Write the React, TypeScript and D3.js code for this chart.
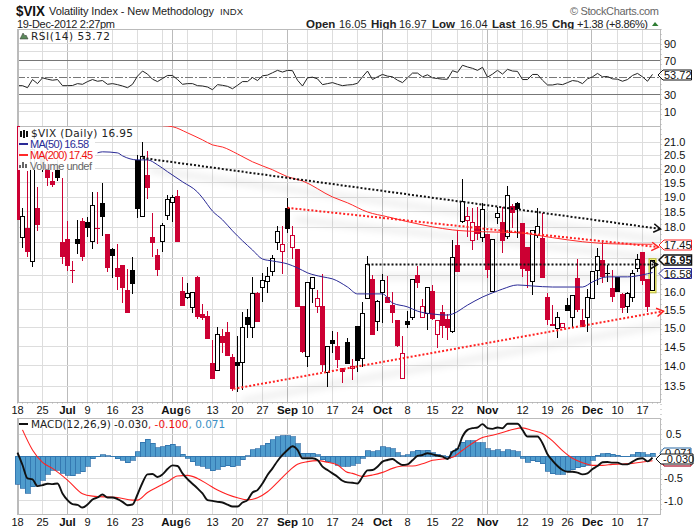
import React from 'react';
import * as d3 from 'd3';

// daily candles, 18 Jun 2012 to 19 Dec 2012, 128 trading days
const opens = [21.6,17.66,17.98,16.9,18.64,20.51,20.15,19.57,20.15,17.53,17.62,16.66,17.62,18.21,18.18,17.53,17.98,18.81,17.78,17.3,16.72,16.81,16.06,16.66,20.33,18.34,19.79,17.69,17.11,17.53,18.37,18.81,19.05,16.03,15.86,15.55,16.45,15.38,15.32,14.08,13.88,14.78,14.89,14.23,14.1,14.08,15.29,15.0,15.98,16.15,16.3,16.6,17.5,17.21,18.64,17.34,17.3,15.6,14.23,16.12,15.58,15.6,13.83,14.67,14.52,13.95,14.62,13.93,15.05,14.18,15.83,16.39,15.18,16.0,15.86,15.63,15.21,13.68,15.18,15.27,16.51,15.29,15.4,16.03,14.83,15.43,15.24,14.89,17.43,18.18,18.21,17.56,18.04,17.66,17.78,16.03,18.31,18.18,17.69,18.71,18.81,18.14,17.37,16.3,17.72,17.66,15.86,15.1,14.97,15.0,15.63,15.27,16.42,15.21,15.27,15.81,16.63,16.96,16.57,16.12,16.45,15.95,15.6,15.86,16.69,17.21,16.39,16.05];
const closes = [18.24,18.34,17.21,20.7,18.08,20.15,19.68,19.43,19.68,17.05,16.78,16.63,17.46,17.05,17.98,18.71,17.96,18.34,16.72,17.08,16.45,16.12,15.4,16.24,18.6,20.44,19.32,17.5,16.66,18.04,18.94,18.98,17.53,15.6,15.95,15.98,15.29,15.27,14.7,13.68,14.83,14.59,14.26,13.43,14.0,15.02,15.08,15.95,15.16,16.33,16.45,17.02,17.85,17.43,17.94,17.72,15.58,14.36,16.27,16.42,15.81,14.03,14.49,14.57,14.15,13.85,14.05,13.98,14.13,15.4,16.81,14.81,15.72,16.33,15.69,15.4,14.52,14.33,15.08,16.36,16.27,15.58,16.15,15.24,15.2,15.05,15.0,17.05,16.6,18.84,18.34,18.14,17.78,18.6,16.66,17.59,18.44,17.56,19.05,18.47,18.6,16.69,16.63,17.88,18.01,16.42,15.21,15.05,15.27,15.13,15.46,15.89,15.49,15.02,15.86,16.6,17.08,16.45,16.57,15.86,16.0,15.55,15.95,16.54,16.99,16.33,15.58,16.95];
const highs = [21.7,18.64,19.93,20.88,19.36,20.7,20.33,19.9,20.33,19.68,18.21,16.93,18.24,18.31,18.34,19.18,19.18,19.5,17.78,17.34,17.46,16.81,16.69,17.05,20.51,21.0,20.66,18.47,17.3,18.14,19.08,19.08,19.25,16.45,16.27,16.0,16.48,15.66,15.46,14.67,15.02,14.97,15.16,14.31,14.78,15.43,15.52,16.45,16.0,16.57,16.75,17.11,18.04,18.04,18.98,18.04,17.3,15.6,16.27,16.42,16.06,16.54,14.49,14.91,14.89,13.95,14.73,14.18,15.05,15.72,17.08,16.51,15.78,16.54,16.48,16.0,15.21,14.78,15.46,16.39,16.78,15.81,16.15,16.21,15.21,15.63,15.38,17.59,17.91,19.65,18.67,18.64,18.67,18.81,17.78,17.59,18.67,18.67,19.4,18.77,18.84,18.14,17.37,17.91,18.64,18.47,15.98,15.63,15.43,15.13,15.83,15.89,16.99,15.52,16.09,16.6,17.34,17.53,16.81,16.66,16.45,15.98,16.0,16.66,17.15,17.21,16.39,16.97];
const lows = [18.24,17.34,17.05,16.75,17.88,19.9,19.4,19.36,19.57,16.84,16.63,16.27,17.15,16.93,17.69,17.3,17.46,17.72,16.6,16.42,16.06,15.69,15.4,15.95,18.31,18.34,18.94,17.05,16.48,17.21,18.24,18.18,17.53,15.6,15.81,15.4,15.24,15.21,14.7,13.68,13.88,14.33,14.26,13.38,13.35,13.4,14.73,14.73,15.16,15.72,15.98,16.48,17.27,16.54,17.82,16.99,15.58,14.33,13.98,15.69,15.4,13.85,13.48,14.33,13.95,13.58,14.05,13.65,13.85,13.98,15.83,14.81,14.91,15.13,15.69,15.13,14.49,13.68,15.0,15.21,16.12,15.29,14.94,15.21,14.46,14.73,14.67,14.86,16.6,18.14,17.69,17.27,17.59,17.53,16.42,16.0,18.11,17.18,17.62,17.98,17.66,16.45,16.12,15.92,17.66,16.42,15.08,15.05,14.73,15.0,15.46,15.0,15.43,15.02,14.89,15.81,16.21,16.27,16.3,15.72,16.0,15.4,15.4,15.72,16.6,16.21,15.43,16.04];

// moving averages read at the bars listed next to them
const ma50Bars = [16,17,20,21,24,26,28,30,33,36,37,39,41,43,45,47,49,51,54,56,58,61,63,66,68,73,75,78,80,83,86,87,90,93,95,97,100,103,107,110,113,115,118,122,125,127];
const ma50Values = [20.59,20.63,20.59,20.48,20.33,20.33,20.15,19.9,19.54,19.18,18.98,18.53,18.24,17.88,17.56,17.27,16.99,16.93,16.84,16.72,16.57,16.45,16.39,16.15,15.95,15.95,15.69,15.58,15.46,15.38,15.35,15.38,15.63,15.86,15.98,16.09,16.21,16.18,16.15,16.15,16.15,16.3,16.45,16.45,16.51,16.58];
const ma200Bars = [29,31,34,37,39,41,44,47,51,54,57,63,66,70,74,78,83,87,93,100,107,113,120,127];
const ma200Values = [21.63,21.59,21.35,21.08,20.89,20.81,20.55,20.26,19.97,19.72,19.57,19.01,18.81,18.5,18.34,18.18,18.01,17.91,17.85,17.82,17.66,17.53,17.46,17.45];

const rsiValues = [40.4,40.4,38,47.6,42.8,49.6,48,46.8,47.6,40.4,40.4,40.6,42.8,42,45.2,47.6,45.6,46.4,42,42.8,41.6,40,38,42,51.6,57.6,54,48,45.2,48.8,52.4,52.4,47.6,42,42.8,42.8,40.4,40,38.8,35.6,41.6,40.8,39.6,36.8,40.8,45.2,45.2,50,46.4,52,52.8,55.6,58.4,56.4,58.4,58,46.8,40,49.6,50.4,48.4,41.6,42.8,44,42,40.4,41.2,41.6,43.2,50.8,57.6,47.6,50.8,53.6,51.6,50.8,46.8,44,49.6,55.2,55.2,50.8,53.2,49.6,48.8,48,48,58,56,64.4,62.4,60.8,58.4,62,50.4,54,58.4,54,59.6,57.6,57.2,47.6,47.6,53.6,53.6,46.8,41.2,41.2,42.4,41.6,44,46.4,45.6,42.8,48.4,50.8,54.8,50.8,51.2,48.4,48,45.6,47.6,52.4,54.8,50.8,45.6,53.72];

const macdValues = [0.083,-0.197,-0.5,-0.523,-0.674,-0.652,-0.621,-0.629,-0.614,-0.841,-0.992,-1.083,-1.098,-1.159,-1.091,-0.977,-0.932,-0.864,-0.932,-0.932,-0.97,-1.03,-1.106,-1.091,-0.864,-0.598,-0.409,-0.402,-0.47,-0.409,-0.288,-0.205,-0.22,-0.386,-0.515,-0.621,-0.727,-0.841,-0.992,-1.008,-1.03,-1.045,-1.091,-1.136,-1.136,-1.045,-0.992,-0.818,-0.765,-0.614,-0.424,-0.273,-0.106,0.03,0.144,0.227,0.144,-0.045,-0.045,-0.045,-0.083,-0.235,-0.311,-0.386,-0.462,-0.553,-0.591,-0.598,-0.614,-0.462,-0.318,-0.311,-0.235,-0.121,-0.083,-0.061,-0.136,-0.197,-0.182,-0.091,0.008,0.03,0.068,0.045,0.015,-0.008,-0.061,0.106,0.167,0.447,0.598,0.636,0.652,0.727,0.636,0.621,0.652,0.636,0.735,0.735,0.735,0.598,0.447,0.447,0.447,0.295,0.045,-0.098,-0.22,-0.311,-0.348,-0.348,-0.371,-0.409,-0.386,-0.288,-0.22,-0.136,-0.129,-0.144,-0.144,-0.182,-0.182,-0.121,-0.061,-0.045,-0.114,-0.03];
const signalBars = [1,3,5,7,10,13,15,20,23,24,26,28,30,32,34,36,38,40,42,44,46,48,50,52,54,56,58,60,62,64,66,67,69,71,73,75,77,79,81,83,85,87,89,91,93,95,97,99,101,103,105,107,109,111,113,115,117,119,121,123,125,127];
const signalValues = [0.598,0.144,-0.136,-0.273,-0.538,-0.848,-0.902,-0.932,-0.992,-0.992,-0.818,-0.697,-0.576,-0.447,-0.432,-0.5,-0.629,-0.765,-0.864,-0.939,-0.985,-0.939,-0.803,-0.591,-0.364,-0.182,-0.121,-0.098,-0.136,-0.197,-0.364,-0.386,-0.455,-0.424,-0.364,-0.273,-0.22,-0.22,-0.167,-0.091,-0.061,-0.023,0.136,0.295,0.424,0.477,0.538,0.606,0.644,0.583,0.515,0.348,0.129,-0.045,-0.144,-0.205,-0.205,-0.182,-0.174,-0.159,-0.129,-0.1];
const histValues = [-0.636,-0.727,-0.841,-0.689,-0.636,-0.538,-0.409,-0.311,-0.311,-0.386,-0.424,-0.439,-0.386,-0.348,-0.22,-0.061,-0.008,0.03,0.008,-0.008,-0.061,-0.091,-0.144,-0.091,0.098,0.318,0.386,0.295,0.197,0.22,0.25,0.273,0.212,0.045,-0.045,-0.121,-0.197,-0.227,-0.273,-0.326,-0.288,-0.242,-0.212,-0.235,-0.197,-0.083,0.015,0.144,0.167,0.235,0.295,0.371,0.439,0.462,0.462,0.439,0.28,0.068,0.068,0.068,0.03,-0.083,-0.121,-0.136,-0.197,-0.22,-0.22,-0.197,-0.152,-0.045,0.121,0.106,0.129,0.212,0.197,0.167,0.076,0.015,0.03,0.106,0.136,0.121,0.136,0.083,0.045,0.008,-0.045,0.106,0.167,0.318,0.348,0.348,0.303,0.303,0.167,0.121,0.152,0.106,0.152,0.129,0.098,-0.045,-0.136,-0.106,-0.121,-0.167,-0.333,-0.394,-0.409,-0.409,-0.333,-0.303,-0.258,-0.235,-0.197,-0.091,0.023,0.053,0.068,0.045,0.023,-0.015,-0.008,0.03,0.091,0.076,0.038,0.071];

// x axis: Mondays and month starts, as bar numbers
const gridBars = [0,5,10,14,19,24,29,31,34,39,44,49,54,58,63,68,73,78,83,88,93,94,96,101,106,110,115,120,125];
const monthBars = [10,31,54,73,94,115];
const tickBars = [0,5,10,14,19,24,31,34,39,44,49,54,58,63,68,73,78,83,88,94,101,106,110,115,120,125];
const tickLabels = ['18','25','Jul','9','16','23','Aug','6','13','20','27','Sep','10','17','24','Oct','8','15','22','Nov','12','19','26','Dec','10','17'];
const monthLabels = ['Jul','Aug','Sep','Oct','Nov','Dec'];

const priceGrid = [13.5,14,14.5,15,15.5,16,16.5,17,17.5,18,18.5,19,19.5,20,20.5,21];
// 16.5, 17 and 17.5 sit under the value tags
const priceTicks = [13.5,14,14.5,15,15.5,16,18,18.5,19,19.5,20,20.5,21];
const rsiGrid = [10,20,40,60,80,90];
const rsiTicks = [10,30,70,90];
const macdGrid = [0.5,0,-0.5,-1];
const macdTicks = [0.5,-0.5,-1];

// hand drawn lines from the chart, [bar, price]
const fallingBlack: [number, number][] = [[25, 20.4],[128.6, 17.94]];
const fallingRed: [number, number][] = [[54, 18.64],[128.2, 17.36]];
const flatBlack: [number, number][] = [[70, 16.82],[128, 16.82]];
const risingRed: [number, number][] = [[43.2, 13.43],[129.2, 15.46]];

const RED = '#cc0033';
const MA_BLUE = '#2a2a96';
const MA_RED = '#ff2a2a';
const LINE_RED = '#ff2222';
const HIST = '#4f9ccd';
const sans = '"Liberation Sans", Arial, sans-serif';
const wide = '"DejaVu Sans", Verdana, sans-serif';

const x = d3.scaleLinear().domain([0, 127]).range([17.5, 652.5]);
const rsiY = d3.scaleLinear().domain([0, 100]).range([120, 35]);
const priceY = d3.scaleLog().domain([13.5, 21]).range([386, 142]);
const macdY = d3.scaleLinear().domain([0, -1]).range([456.3, 500.5]);

const snap = (v: number) => Math.round(v - 0.5) + 0.5;

// value tag on the right hand axis
const Tag = ({ y, label, color, bold, left = 659 }: { y: number; label: string; color: string; bold?: boolean; left?: number }) => (
  <g>
    <path d={`M${left},${y} L${left + 5},${y - 5} H691.5 V${y + 5} H${left + 5} Z`} fill="#fff" stroke={color} strokeWidth={bold ? 1.5 : 1} />
    <text x={664} y={y + 4} fontFamily={sans} fontSize={11} fontWeight={bold ? 'bold' : 'normal'} fill="#111">{label}</text>
  </g>
);

const Arrow = ({ line, color }: { line: [number, number][]; color: string }) => {
  const [a, b] = line;
  const x1 = x(a[0]), y1 = priceY(a[1]), x2 = x(b[0]), y2 = priceY(b[1]);
  const ang = Math.atan2(y2 - y1, x2 - x1);
  const head = [0.55, -0.55].map(d => [x2 - 8 * Math.cos(ang + d), y2 - 8 * Math.sin(ang + d)]);
  return (
    <g fill="none" stroke={color}>
      <line x1={x1} y1={y1} x2={x2} y2={y2} strokeWidth={2} strokeDasharray="2,2" />
      <path d={`M${head[0]} L${x2},${y2} L${head[1]}`} strokeWidth={1.5} />
    </g>
  );
};

const App = () => {
  const bars = d3.range(opens.length);

  const rsiLine = d3.line<number>().x((_, i) => x(i)).y(d => rsiY(d))(rsiValues) || '';
  const macdLine = d3.line<number>().x((_, i) => x(i)).y(d => macdY(d)).curve(d3.curveMonotoneX)(macdValues) || '';
  const sparse = (xs: number[], ys: number[], yScale: (v: number) => number) =>
    d3.line<number>().x((_, i) => x(xs[i])).y(d => yScale(d)).curve(d3.curveMonotoneX)(ys) || '';

  const vGrid = (top: number, bottom: number) => gridBars.map(b => {
    const gx = snap(x(b) - 0.5);
    return <line key={b} x1={gx} x2={gx} y1={top} y2={bottom} stroke={monthBars.includes(b) ? '#bbb' : '#ddd'} />;
  });

  const xLabels = (y: number) => tickBars.map((b, i) => {
    const isMonth = monthLabels.includes(tickLabels[i]);
    return (
      <text key={b} x={x(b)} y={y} textAnchor="middle" fontFamily={sans} fontSize={isMonth ? 11.5 : 11} fontWeight={isMonth ? 'bold' : 'normal'} fill="#111">
        {tickLabels[i]}
      </text>
    );
  });

  const lastBar = bars[bars.length - 1];

  return (
    <svg width={700} height={530} style={{ position: 'absolute', left: 0, top: 0, background: '#fff' }}>
      <defs>
        <clipPath id="mainClip"><rect x={17} y={126} width={643} height={276} /></clipPath>
        <clipPath id="tagTop"><rect x={660} y={446} width={36} height={8} /></clipPath>
        <clipPath id="tagBottom"><rect x={660} y={464} width={36} height={4} /></clipPath>
        <filter id="soft" x="-10%" y="-200%" width="120%" height="500%"><feGaussianBlur stdDeviation="3.5" /></filter>
      </defs>

      {/* header */}
      <text x={16} y={15.5} fontFamily={sans} fontSize={14} fontWeight="bold" fill="#111" textLength={29} lengthAdjust="spacingAndGlyphs">$VIX</text>
      <text x={49} y={14.5} fontFamily={sans} fontSize={11} fill="#222" textLength={165}>Volatility Index - New Methodology</text>
      <text x={220} y={14.5} fontFamily={sans} fontSize={9.5} fill="#222" textLength={23}>INDX</text>
      <text x={17} y={27.5} fontFamily={sans} fontSize={11} fill="#222" textLength={98}>19-Dec-2012 2:27pm</text>
      <text x={570} y={14.5} fontFamily={sans} fontSize={11} fill="#666" textLength={89}>© StockCharts.com</text>
      <g fontFamily={sans} fontSize={11} fill="#222" style={{ whiteSpace: 'pre' }}>
        <text x={306} y={27.5} fontWeight="bold" fontSize={11.5}>Open</text>
        <text x={339} y={27.5}>16.05</text>
        <text x={371} y={27.5} fontWeight="bold" fontSize={11.5}>High</text>
        <text x={399} y={27.5}>16.97</text>
        <text x={432} y={27.5} fontWeight="bold" fontSize={11.5}>Low</text>
        <text x={460} y={27.5}>16.04</text>
        <text x={492} y={27.5} fontWeight="bold" fontSize={11.5}>Last</text>
        <text x={520} y={27.5}>16.95</text>
        <text x={552} y={27.5} fontWeight="bold" fontSize={11.5}>Chg</text>
        <text x={577} y={27.5} textLength={71}>+1.38 (+8.86%)</text>
      </g>
      <path d="M652,26 L655,22 L658.5,26 Z" fill="#2e7d32" />

      {/* RSI panel */}
      <g shapeRendering="crispEdges">
        {vGrid(29.5, 126)}
        {rsiGrid.map(v => <line key={v} x1={17} x2={660} y1={snap(rsiY(v))} y2={snap(rsiY(v))} stroke="#ddd" />)}
        <line x1={17} x2={660} y1={snap(rsiY(70))} y2={snap(rsiY(70))} stroke="#777" />
        <line x1={17} x2={660} y1={snap(rsiY(30))} y2={snap(rsiY(30))} stroke="#777" />
        <line x1={17} x2={660} y1={snap(rsiY(50))} y2={snap(rsiY(50))} stroke="#777" strokeDasharray="8,2,2,2" />
        <rect x={17} y={29.5} width={643} height={96.5} fill="none" stroke="#bbb" />
      </g>
      <path d={rsiLine} fill="none" stroke="#222" strokeWidth={1} />
      <path d="M20,39 L23,33 L25,36 L26,35 L28,39 Z" fill="#5c8a5c" stroke="#333" strokeWidth={0.5} />
      <text x={31} y={40} fontFamily={wide} fontSize={10.5} fill="#222" textLength={79}>RSI(14) 53.72</text>
      {rsiTicks.map(v => <text key={v} x={664} y={rsiY(v) + 4} fontFamily={sans} fontSize={11} fill="#111">{v}</text>)}
      <Tag y={75} label="53.72" color="#111" left={658} />

      {/* price panel */}
      <g shapeRendering="crispEdges">
        {vGrid(126, 402)}
        {priceGrid.map(v => <line key={v} x1={17} x2={660} y1={snap(priceY(v))} y2={snap(priceY(v))} stroke="#ddd" />)}
        <rect x={17} y={126} width={643} height={276} fill="none" stroke="#bbb" />
        <line x1={17.5} x2={17.5} y1={29} y2={402} stroke="#bbb" strokeWidth={2} />
      </g>
      <line x1={661} x2={661} y1={29} y2={514} stroke="#aaa" strokeDasharray="1,4" />
      <line x1={17} x2={660} y1={403} y2={403} stroke="#aaa" strokeDasharray="1,4" />

      <g clipPath="url(#mainClip)">
        {/* drop shadows of the hand drawn lines */}
        <g filter="url(#soft)" stroke="#000" strokeOpacity={0.08} strokeWidth={5} transform="translate(8,12)">
          {[fallingBlack, fallingRed, flatBlack, risingRed].map((l, i) => (
            <line key={i} x1={x(l[0][0])} y1={priceY(l[0][1])} x2={x(l[1][0])} y2={priceY(l[1][1])} />
          ))}
        </g>

        {/* highlight on the running bar */}
        <rect x={x(lastBar) - 3.5} y={priceY(highs[lastBar]) - 1} width={7} height={priceY(lows[lastBar]) - priceY(highs[lastBar]) + 3} fill="#ffff88" stroke="#b5b53a" />

        {bars.map(i => {
          const c = closes[i], o = opens[i];
          const hollow = c > o;
          const color = i > 0 && c >= closes[i - 1] ? '#000' : RED;
          const top = priceY(Math.max(o, c));
          const bottom = priceY(Math.min(o, c));
          return (
            <g key={i} shapeRendering="crispEdges">
              <line x1={x(i)} x2={x(i)} y1={priceY(highs[i])} y2={priceY(lows[i])} stroke={color} />
              {hollow
                ? <rect x={x(i) - 2} y={top} width={4} height={Math.max(bottom - top, 1)} fill="#fff" stroke={color} />
                : <rect x={x(i) - 2.5} y={top} width={5} height={Math.max(bottom - top, 1.5)} fill={color} />}
            </g>
          );
        })}

        <path d={sparse(ma50Bars, ma50Values, priceY)} fill="none" stroke={MA_BLUE} strokeWidth={1} />
        <path d={sparse(ma200Bars, ma200Values, priceY)} fill="none" stroke={MA_RED} strokeWidth={1} />
      </g>

      <Arrow line={fallingBlack} color="#111" />
      <Arrow line={fallingRed} color={LINE_RED} />
      <Arrow line={flatBlack} color="#111" />
      <Arrow line={risingRed} color={LINE_RED} />

      {/* price legend */}
      <rect x={18} y={127} width={77} height={43} fill="#fff" fillOpacity={0.92} />
      <g fontFamily={wide} fontSize={10.5}>
        <path d="M21,131 V137 M24,130 V138 M27,131 V137" stroke="#111" strokeWidth={2} />
        <text x={31} y={136.5} fill="#222" textLength={102}>$VIX (Daily) 16.95</text>
        <line x1={19} x2={28} y1={144} y2={144} stroke={MA_BLUE} strokeWidth={2} />
        <text x={30} y={147.5} fill={MA_BLUE} textLength={59} fontFamily={sans} fontSize={11}>MA(50) 16.58</text>
        <line x1={19} x2={28} y1={155} y2={155} stroke={MA_RED} strokeWidth={2} />
        <text x={30} y={158.5} fill="#ee1111" textLength={63} fontFamily={sans} fontSize={11}>MA(200) 17.45</text>
        <path d="M20,168 V165 M23,168 V162 M26,168 V164" stroke="#666" strokeWidth={2} />
        <text x={30} y={169.5} fill="#666" textLength={62} fontFamily={sans} fontSize={11}>Volume undef</text>
      </g>

      {priceTicks.map(v => (
        <text key={v} x={664} y={priceY(v) + 4} fontFamily={sans} fontSize={11} fill="#111">{v.toFixed(1)}</text>
      ))}
      <Tag y={245} label="17.45" color={LINE_RED} />
      <Tag y={260} label="16.95" color="#111" bold />
      <Tag y={273.5} label="16.58" color={MA_BLUE} />
      {xLabels(413.5)}

      {/* MACD panel */}
      <g shapeRendering="crispEdges">
        {vGrid(418, 514)}
        {macdGrid.map(v => <line key={v} x1={17} x2={660} y1={snap(macdY(v))} y2={snap(macdY(v))} stroke="#ddd" />)}
        <line x1={17.5} x2={17.5} y1={418} y2={514} stroke="#bbb" strokeWidth={2} />
        <rect x={17} y={418} width={643} height={96} fill="none" stroke="#bbb" />
        {histValues.map((v, i) => (
          <rect key={i} x={x(i) - 2.5} width={5} y={Math.min(macdY(v), macdY(0))} height={Math.abs(macdY(v) - macdY(0))} fill={HIST} stroke="#2a6aa5" strokeWidth={0.7} />
        ))}
      </g>
      <path d={sparse(signalBars, signalValues, macdY)} fill="none" stroke={LINE_RED} strokeWidth={1.1} />
      <path d={macdLine} fill="none" stroke="#111" strokeWidth={1.9} />

      <line x1={19} x2={28} y1={424} y2={424} stroke="#111" strokeWidth={2} />
      <text y={428} fontFamily={wide} fontSize={10.5} style={{ whiteSpace: 'pre' }}>
        <tspan x={31} fill="#222">MACD(12,26,9) -0.030</tspan>
        <tspan fill="#ee1111">, -0.100</tspan>
        <tspan fill="#3b8fc4">, 0.071</tspan>
      </text>
      {macdTicks.map(v => (
        <text key={v} x={v < 0 ? 664 : 666} y={macdY(v) + 4} fontFamily={sans} fontSize={11} fill="#111">{v.toFixed(1)}</text>
      ))}
      {/* two tags mostly covered by the MACD tag, as on the original */}
      <path d="M660,453 L664,448 H691 V466 H664 Z" fill="#fff" stroke="#2a6aa5" />
      <path d="M660,461 L664,466 H691 V456" fill="none" stroke={LINE_RED} />
      <text x={665} y={457} clipPath="url(#tagTop)" fontFamily={sans} fontSize={11} fill="#111">0.071</text>
      <text x={665} y={464} clipPath="url(#tagBottom)" fontFamily={sans} fontSize={11} fill="#111">-0.100</text>
      <path d="M656,459 L661,454 H693 V464 H661 Z" fill="#fff" stroke="#111" />
      <text x={663} y={463} fontFamily={sans} fontSize={11} fill="#111">-0.030</text>
      {xLabels(525.5)}
    </svg>
  );
};

export default App;
